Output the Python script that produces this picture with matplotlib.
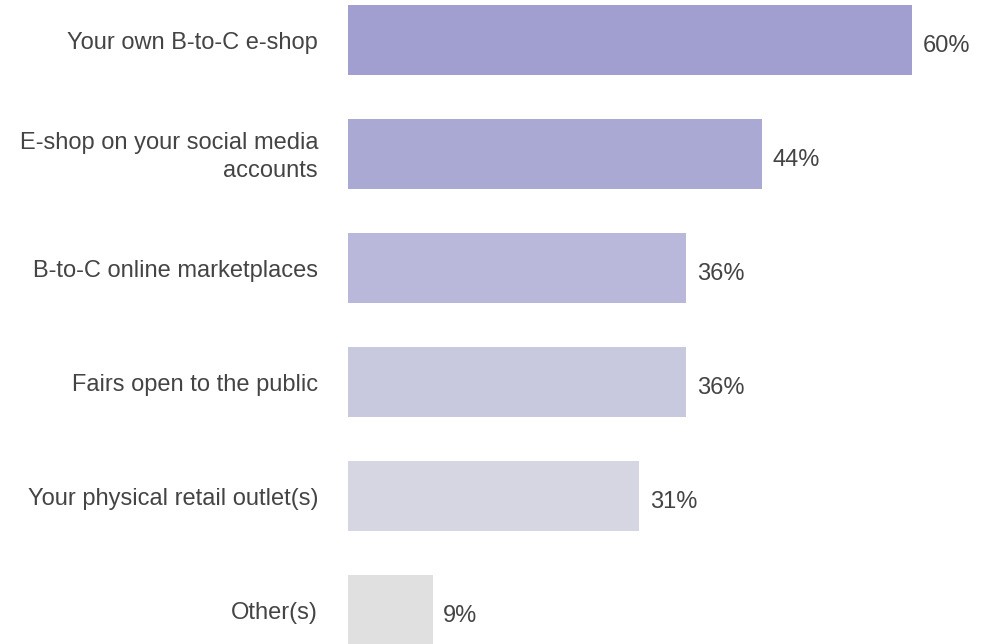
import matplotlib.pyplot as plt

channels = [
    "Your own B-to-C e-shop",
    "E-shop on your social media\naccounts",
    "B-to-C online marketplaces",
    "Fairs open to the public",
    "Your physical retail outlet(s)",
    "Other(s)",
]
shares = [60, 44, 36, 36, 31, 9]
bar_colors = ["#a09fd0", "#aaa9d4", "#b9b8da", "#c8c8df", "#d5d6e1", "#e0e0e0"]

plt.rcParams["font.family"] = ["Liberation Sans", "DejaVu Sans"]

fig = plt.figure(figsize=(9.93, 6.44), dpi=100)
ax = fig.add_axes([348 / 993, 0, 1 - 348 / 993, 1])

pos = list(range(len(channels)))
ax.barh(pos, shares, height=0.614, color=bar_colors, edgecolor="none")

for y, v, name in zip(pos, shares, channels):
    # value on the right of the bar
    ax.annotate(f"{v}%", (v, y), xytext=(7.5, -4.5), textcoords="offset points",
                va="center", ha="left", fontsize=17, color="#444444")
    # category name on the left of the axis
    ax.annotate(name, (0, y), xytext=(-21.6, -2.5), textcoords="offset points",
                va="center", ha="right", fontsize=17, color="#444444",
                linespacing=1.35, annotation_clip=False)

ax.set_xticks([])
ax.set_yticks([])
ax.set_xlim(0, 60 * (993 - 348) / 564)
ax.set_ylim((644 - 40) / 114, -40 / 114)
for s in ax.spines.values():
    s.set_visible(False)

fig.savefig("out.png", dpi=100, facecolor="white")
